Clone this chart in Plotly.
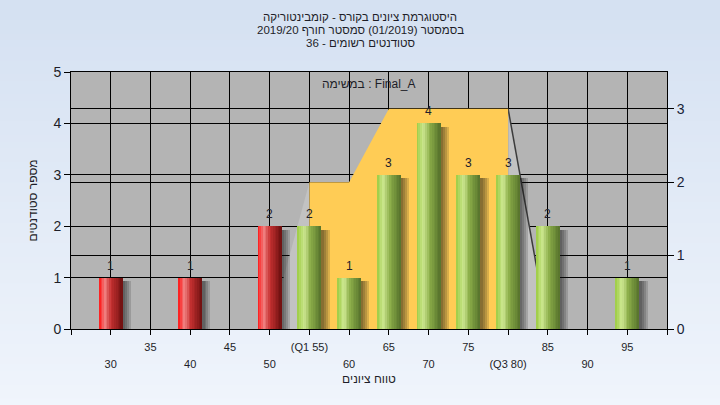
import plotly.graph_objects as go

# ---------------- data ----------------
grades = [30, 40, 50, 55, 60, 65, 70, 75, 80, 85, 95]
counts = [1, 1, 2, 2, 1, 3, 4, 3, 3, 2, 1]
pass_grade = 55

dist_x = [50, 55, 60, 65, 70, 75, 80, 85]
dist_y = [0, 2, 2, 3, 3, 3, 3, 0]
q1, q3 = 55, 80

tick_vals = [25, 30, 35, 40, 45, 50, 55, 60, 65, 70, 75, 80, 85, 90, 95, 100]
tick_labels = ["", "30", "35", "40", "45", "50", "(Q1 55)", "60", "65", "70",
               "75", "(Q3 80)", "85", "90", "95", ""]

title_lines = [
    "היסטוגרמת ציונים בקורס - קומבינטוריקה",
    "בסמסטר (01/2019) סמסטר חורף 2019/20",
    "סטודנטים רשומים - 36",
]
task_label = "במשימה : Final_A"
x_title = "טווח ציונים"
y_title = "מספר סטודנטים"

# ---------------- layout geometry ----------------
W, H = 720, 405
ML, MR, MT, MB = 71, 53, 72, 76
PW, PH = W - ML - MR, H - MT - MB
FONT = "Liberation Sans, Arial, DejaVu Sans, sans-serif"
TXT = "#1e1e28"


def py(pix):  # pixel row -> paper y
    return (H - MB - pix) / PH


def px(pix):  # pixel column -> paper x
    return (pix - ML) / PW


def lerp(c1, c2, t):
    return tuple(c1[i] + (c2[i] - c1[i]) * t for i in range(3))


def grad(stops, t):
    for (p0, c0), (p1, c1) in zip(stops, stops[1:]):
        if p0 <= t <= p1:
            return lerp(c0, c1, (t - p0) / (p1 - p0))
    return stops[-1][1]


red_stops = [(0.0, (255, 20, 20)), (0.26, (240, 130, 130)), (0.5, (200, 50, 50)), (1.0, (110, 16, 16))]
green_stops = [(0.0, (156, 204, 66)), (0.28, (206, 232, 146)), (0.55, (138, 172, 72)), (1.0, (86, 114, 44))]

fig = go.Figure()

# ---------- distribution area (right axis, main y) ----------
left_x = [x for x in dist_x if x <= q1]
left_y = [y for x, y in zip(dist_x, dist_y) if x <= q1]
mid_x = [x for x in dist_x if q1 <= x <= q3]
mid_y = [y for x, y in zip(dist_x, dist_y) if q1 <= x <= q3]
right_x = [x for x in dist_x if x >= q3]
right_y = [y for x, y in zip(dist_x, dist_y) if x >= q3]

fig.add_trace(go.Scatter(x=left_x, y=left_y, mode="lines", fill="tozeroy",
                         fillcolor="rgb(194,194,194)", line=dict(width=0, color="rgb(194,194,194)"),
                         hoverinfo="skip", showlegend=False, yaxis="y"))
fig.add_trace(go.Scatter(x=right_x, y=right_y, mode="lines", fill="tozeroy",
                         fillcolor="rgb(194,194,194)", line=dict(width=1.5, color="rgb(60,60,60)"),
                         hoverinfo="skip", showlegend=False, yaxis="y"))
fig.add_trace(go.Scatter(x=mid_x, y=mid_y, mode="lines", fill="tozeroy",
                         fillcolor="rgb(255,204,85)", line=dict(width=0, color="rgb(255,204,85)"),
                         hoverinfo="skip", showlegend=False, yaxis="y"))

# ---------- bars (left axis, y2) ----------
BW = 3.0  # bar width in x units
n = len(grades)
shadow_h = [c - 0.07 for c in counts]
for ext in [1.05, 0.8, 0.55, 0.3]:
    fig.add_trace(go.Bar(x=grades, y=shadow_h, width=[BW - 0.4 + ext] * n,
                         offset=[-BW / 2 + 0.4] * n,
                         marker=dict(color="rgba(20,20,20,0.16)", line=dict(width=0)),
                         hoverinfo="skip", showlegend=False, yaxis="y2"))
NS = 14
sw = BW / NS
for i in range(NS):
    t = (i + 0.5) / NS
    cols = []
    for g in grades:
        stops = red_stops if g < pass_grade else green_stops
        cols.append("rgb(%d,%d,%d)" % grad(stops, t))
    w = sw + (0.06 if i < NS - 1 else 0)
    fig.add_trace(go.Bar(x=grades, y=counts, width=[w] * n, offset=[-BW / 2 + i * sw] * n,
                         marker=dict(color=cols, line=dict(width=0)),
                         hoverinfo="skip", showlegend=False, yaxis="y2"))

annotations = []
for g, c in zip(grades, counts):
    annotations.append(dict(x=g, y=c, xref="x", yref="y2", text=str(c), showarrow=False,
                            yanchor="bottom", yshift=3, font=dict(size=12, color="#20202c", family=FONT)))

for line, pix in zip(title_lines, [17, 30, 43]):
    annotations.append(dict(x=px(360), y=py(pix), xref="paper", yref="paper", text=line,
                            showarrow=False, xanchor="center", yanchor="middle",
                            font=dict(size=11.5, color=TXT, family=FONT)))

annotations.append(dict(x=0.5, y=py(84), xref="paper", yref="paper", text=task_label,
                        showarrow=False, xanchor="center", yanchor="middle",
                        font=dict(size=12, color=TXT, family=FONT)))

# ---------- tick labels in two staggered rows ----------
ticktext = []
for v, lab in zip(tick_vals, tick_labels):
    span = "<span style='font-size:11px'>%s</span>" % lab
    ticktext.append(span if (v // 5) % 2 == 1 else "<br>" + span)

# ---------- background gradient ----------
shapes = []
NB = 60
top_c, bot_c = (213, 225, 242), (240, 245, 252)
for i in range(NB):
    y0 = H * i / NB
    y1 = H * (i + 1) / NB + 0.8
    c = lerp(top_c, bot_c, i / (NB - 1))
    shapes.append(dict(type="rect", xref="paper", yref="paper",
                       x0=-ML / PW, x1=(W - ML) / PW, y0=py(y1), y1=py(y0),
                       fillcolor="rgb(%d,%d,%d)" % c, line=dict(width=0), layer="below"))
shapes.append(dict(type="rect", xref="paper", yref="paper", x0=0, x1=1, y0=0, y1=1,
                   fillcolor="rgb(180,180,180)", line=dict(width=0), layer="below"))

fig.update_layout(
    width=W, height=H, autosize=False,
    margin=dict(l=ML, r=MR, t=MT, b=MB, pad=0),
    paper_bgcolor="rgb(226,235,247)", plot_bgcolor="rgb(180,180,180)",
    barmode="overlay", bargap=0,
    font=dict(family=FONT, color=TXT),
    showlegend=False,
    shapes=shapes, annotations=annotations,
    xaxis=dict(range=[25, 100], tickmode="array", tickvals=tick_vals, ticktext=ticktext,
               ticks="outside", ticklen=5, tickcolor="black", tickwidth=1,
               showgrid=True, gridcolor="black", gridwidth=1, zeroline=False,
               showline=True, linecolor="black", linewidth=1, mirror=True,
               tickfont=dict(size=13, color=TXT, family=FONT), tickangle=0,
               title=dict(text=x_title, font=dict(size=12, color=TXT, family=FONT), standoff=6)),
    yaxis=dict(range=[0, 3.5], side="right", tickmode="array", tickvals=[0, 1, 2, 3],
               ticks="outside", ticklen=6, tickcolor="black",
               showgrid=True, gridcolor="black", gridwidth=1, zeroline=False,
               showline=True, linecolor="black", linewidth=1,
               tickfont=dict(size=14, color="#1a2438", family=FONT)),
    yaxis2=dict(range=[0, 5], side="left", overlaying="y", tickmode="array",
                tickvals=[0, 1, 2, 3, 4, 5],
                ticks="outside", ticklen=6, tickcolor="black",
                showgrid=True, gridcolor="black", gridwidth=1, zeroline=False,
                showline=True, linecolor="black", linewidth=1,
                tickfont=dict(size=14, color=TXT, family=FONT),
                title=dict(text=y_title, font=dict(size=12, color=TXT, family=FONT), standoff=13)),
)

fig.write_html("out.html", config={"displayModeBar": False},
               post_script="document.body.style.margin='0';")
